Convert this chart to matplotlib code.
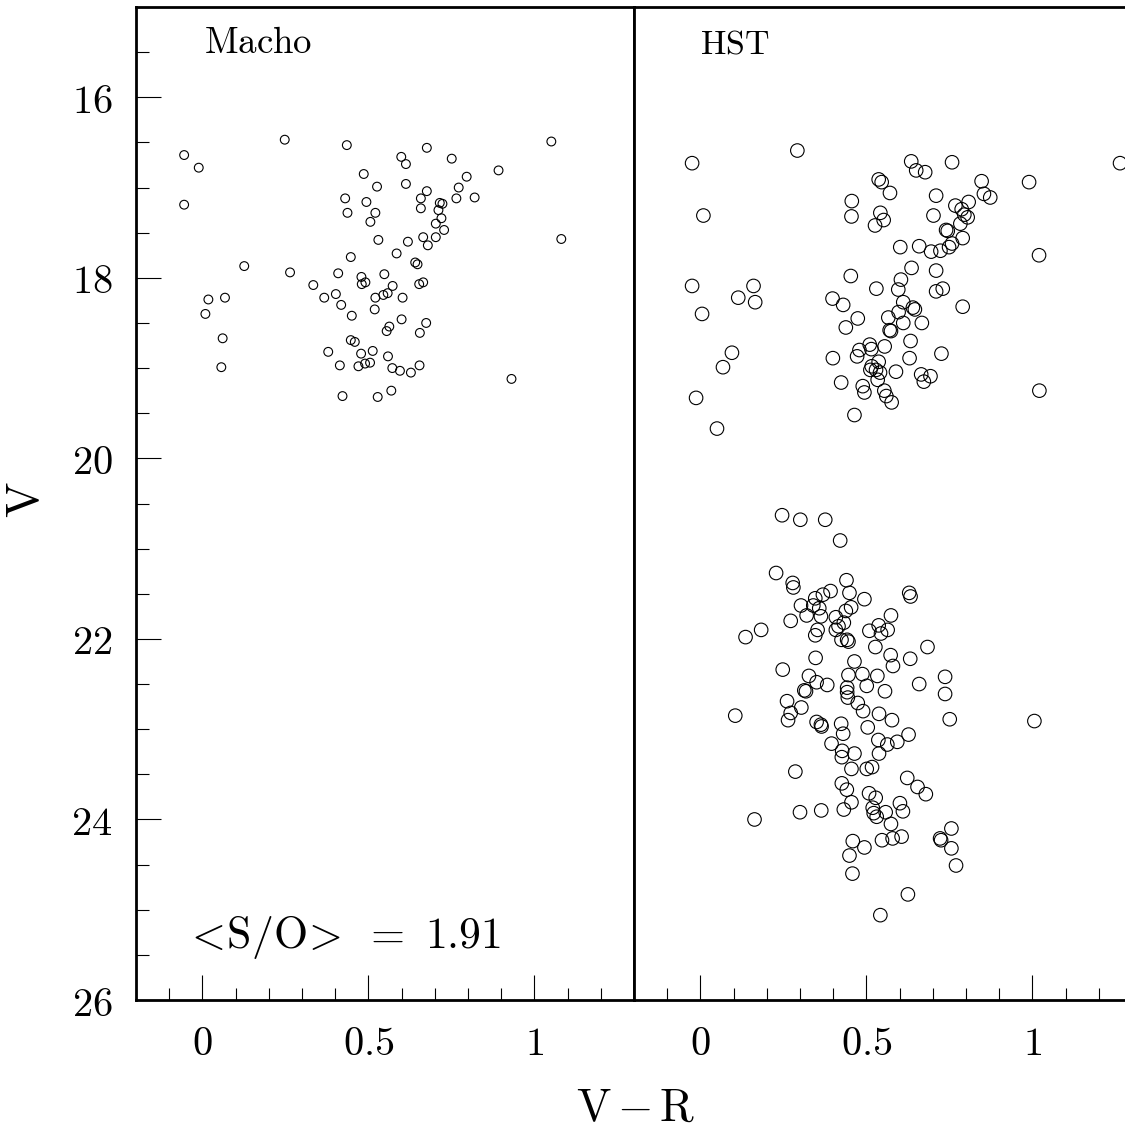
import numpy as np
import matplotlib
matplotlib.use('Agg')
import matplotlib.pyplot as plt
from matplotlib.ticker import MultipleLocator, FuncFormatter

plt.rcParams['mathtext.fontset'] = 'cm'

# Macho sample (V-R, V)
macho_vr = [0.248, 0.435, -0.055, -0.011, 1.051, 0.676, 0.599, 0.613, 0.751, 0.486,
            0.892, 0.796, 0.526, 0.613, 0.772, -0.055, 0.430, 0.494, 0.676, 0.658,
            0.765, 0.820, 0.437, 0.521, 0.658, 0.715, 0.723, 0.711, 0.720, 0.506,
            0.703, 0.728, 0.530, 0.619, 0.665, 0.703, 0.679, 1.081, 0.585, 0.447,
            0.641, 0.648, 0.126, 0.264, 0.409, 0.479, 0.548, 0.334, 0.480, 0.491,
            0.573, 0.653, 0.665, 0.018, 0.068, 0.009, 0.367, 0.402, 0.418, 0.521,
            0.545, 0.558, 0.603, 0.450, 0.519, 0.600, 0.674, 0.563, 0.555, 0.655,
            0.061, 0.447, 0.459, 0.379, 0.478, 0.513, 0.559, 0.414, 0.470, 0.490,
            0.505, 0.572, 0.595, 0.628, 0.654, 0.057, 0.931, 0.422, 0.528, 0.569]
macho_v = [16.47, 16.53, 16.64, 16.78, 16.49, 16.56, 16.66, 16.74, 16.68, 16.85,
           16.81, 16.88, 16.99, 16.96, 17.00, 17.19, 17.12, 17.16, 17.04, 17.12,
           17.12, 17.11, 17.28, 17.28, 17.23, 17.17, 17.18, 17.25, 17.34, 17.38,
           17.40, 17.47, 17.58, 17.60, 17.55, 17.55, 17.64, 17.57, 17.73, 17.77,
           17.83, 17.85, 17.87, 17.94, 17.95, 17.99, 17.96, 18.08, 18.07, 18.05,
           18.09, 18.07, 18.05, 18.24, 18.22, 18.40, 18.22, 18.18, 18.30, 18.22,
           18.19, 18.17, 18.22, 18.42, 18.35, 18.46, 18.50, 18.54, 18.59, 18.61,
           18.67, 18.69, 18.71, 18.82, 18.84, 18.81, 18.87, 18.97, 18.98, 18.95,
           18.94, 19.00, 19.03, 19.05, 18.97, 18.99, 19.12, 19.31, 19.32, 19.25]

# HST sample, bright part
hst_vr_bright = [-0.025, 0.292, 0.635, 0.650, 0.677, 0.758, 1.264, 0.537, 0.546, 0.571,
                 0.847, 0.990, 0.456, 0.710, 0.854, 0.873, 0.808, 0.768, 0.787, 0.009,
                 0.455, 0.542, 0.552, 0.526, 0.702, 0.795, 0.805, 0.783, 0.740, 0.745,
                 0.790, 1.020, 0.602, 0.659, 0.695, 0.723, 0.749, 0.758, 0.636, 0.710,
                 0.453, 0.530, 0.596, 0.604, 0.710, 0.730, 0.790, -0.025, 0.160, 0.114,
                 0.165, 0.005, 0.398, 0.430, 0.611, 0.640, 0.646, 0.474, 0.438, 0.566,
                 0.597, 0.611, 0.667, 0.570, 0.574, 0.633, 0.510, 0.479, 0.472, 0.515,
                 0.555, 0.399, 0.630, 0.726, 0.095, 0.068, 0.537, 0.516, 0.512, 0.529,
                 0.541, 0.534, 0.589, 0.424, 0.489, 0.494, 0.554, 0.560, 0.576, 0.665,
                 0.673, 0.693, 1.021, -0.013, 0.464, 0.050]
hst_v_bright = [16.73, 16.59, 16.71, 16.81, 16.83, 16.72, 16.73, 16.91, 16.94, 17.06,
                16.93, 16.94, 17.15, 17.09, 17.07, 17.11, 17.16, 17.20, 17.24, 17.31,
                17.32, 17.28, 17.36, 17.42, 17.31, 17.30, 17.33, 17.40, 17.47, 17.48,
                17.56, 17.75, 17.66, 17.65, 17.71, 17.70, 17.66, 17.62, 17.89, 17.92,
                17.98, 18.12, 18.13, 18.02, 18.15, 18.12, 18.32, 18.09, 18.09, 18.22,
                18.27, 18.40, 18.23, 18.30, 18.27, 18.33, 18.35, 18.45, 18.55, 18.44,
                18.38, 18.50, 18.50, 18.58, 18.59, 18.70, 18.74, 18.80, 18.87, 18.79,
                18.76, 18.89, 18.89, 18.84, 18.83, 18.99, 18.93, 18.98, 19.02, 19.02,
                19.05, 19.13, 19.04, 19.16, 19.20, 19.27, 19.25, 19.31, 19.38, 19.07,
                19.15, 19.09, 19.25, 19.33, 19.52, 19.67]

# HST sample, faint part
hst_vr_faint = [0.246, 0.301, 0.376, 0.421, 0.228, 0.278, 0.280, 0.440, 0.449, 0.392,
                0.369, 0.346, 0.494, 0.629, 0.633, 0.303, 0.340, 0.358, 0.320, 0.363,
                0.454, 0.438, 0.408, 0.432, 0.416, 0.408, 0.272, 0.574, 0.183, 0.136,
                0.353, 0.346, 0.509, 0.537, 0.564, 0.544, 0.425, 0.442, 0.446, 0.527,
                0.684, 0.347, 0.573, 0.580, 0.632, 0.464, 0.248, 0.327, 0.350, 0.382,
                0.446, 0.488, 0.533, 0.501, 0.442, 0.442, 0.444, 0.556, 0.659, 0.737,
                0.737, 0.313, 0.318, 0.261, 0.272, 0.264, 0.304, 0.474, 0.490, 0.538,
                0.577, 0.751, 1.006, 0.105, 0.350, 0.363, 0.365, 0.424, 0.430, 0.504,
                0.627, 0.593, 0.536, 0.563, 0.538, 0.395, 0.427, 0.426, 0.464, 0.455,
                0.501, 0.517, 0.286, 0.623, 0.654, 0.679, 0.426, 0.441, 0.508, 0.528,
                0.519, 0.522, 0.531, 0.558, 0.574, 0.601, 0.610, 0.455, 0.432, 0.364,
                0.300, 0.163, 0.459, 0.494, 0.449, 0.458, 0.547, 0.579, 0.606, 0.722,
                0.725, 0.756, 0.756, 0.770, 0.625, 0.542]
hst_v_faint = [20.63, 20.68, 20.68, 20.91, 21.27, 21.38, 21.43, 21.35, 21.49, 21.47,
               21.51, 21.55, 21.56, 21.49, 21.53, 21.63, 21.63, 21.66, 21.74, 21.75,
               21.65, 21.69, 21.76, 21.82, 21.86, 21.90, 21.80, 21.74, 21.90, 21.98,
               21.90, 21.96, 21.91, 21.85, 21.90, 21.94, 22.01, 22.01, 22.03, 22.09,
               22.09, 22.21, 22.18, 22.30, 22.22, 22.25, 22.34, 22.41, 22.48, 22.51,
               22.40, 22.39, 22.41, 22.52, 22.54, 22.59, 22.65, 22.58, 22.50, 22.42,
               22.61, 22.57, 22.58, 22.69, 22.82, 22.90, 22.76, 22.71, 22.80, 22.83,
               22.90, 22.89, 22.91, 22.85, 22.92, 22.95, 22.97, 22.94, 23.05, 22.98,
               23.06, 23.14, 23.12, 23.17, 23.27, 23.16, 23.24, 23.31, 23.27, 23.44,
               23.44, 23.42, 23.47, 23.54, 23.64, 23.72, 23.60, 23.67, 23.71, 23.76,
               23.87, 23.93, 23.97, 23.92, 24.05, 23.82, 23.91, 23.81, 23.89, 23.90,
               23.92, 24.00, 24.24, 24.31, 24.40, 24.60, 24.23, 24.21, 24.19, 24.21,
               24.23, 24.10, 24.32, 24.51, 24.83, 25.06]

hst_vr = hst_vr_bright + hst_vr_faint
hst_v = hst_v_bright + hst_v_faint

W, H = 1125, 1133
fig = plt.figure(figsize=(W / 100, H / 100), dpi=100)

# axes boxes in pixels (left, top, right, bottom)
left_box = [136, 7, 634, 1000]
right_box = [634, 7, 1132, 1000]

def make_axes(box):
    return fig.add_axes([box[0] / W, 1 - box[3] / H, (box[2] - box[0]) / W, (box[3] - box[1]) / H])

ax1 = make_axes(left_box)
ax2 = make_axes(right_box)

fmt = FuncFormatter(lambda v, p: r'$\mathrm{%g}$' % v)

for ax in [ax1, ax2]:
    ax.set_xlim(-0.2, 1.3)
    ax.set_ylim(26, 15)
    ax.xaxis.set_major_locator(MultipleLocator(0.5))
    ax.xaxis.set_minor_locator(MultipleLocator(0.1))
    ax.yaxis.set_major_locator(MultipleLocator(2))
    ax.yaxis.set_minor_locator(MultipleLocator(0.5))
    ax.xaxis.set_major_formatter(fmt)
    ax.yaxis.set_major_formatter(fmt)
    ax.tick_params(which='both', direction='in', width=0.8, color='black',
                   top=False, right=False, labelsize=29, pad=17)
    ax.tick_params(which='major', length=18)
    ax.tick_params(which='minor', length=9)
    for s in ax.spines.values():
        s.set_linewidth(2.0)

ax2.tick_params(which='both', left=False, labelleft=False)

ax1.scatter(macho_vr, macho_v, s=40, facecolors='none', edgecolors='black', linewidths=0.8)
ax2.scatter(hst_vr, hst_v, s=95, facecolors='none', edgecolors='black', linewidths=0.8)

ax1.text(0.006, 15.51, r'$\mathrm{Macho}$', fontsize=26.5, ha='left', va='baseline')
ax2.text(0.0, 15.51, r'$\mathrm{HST}$', fontsize=24.5, ha='left', va='baseline')
ax1.text(-0.055, 25.42, r'$\mathrm{<\!S/O\!>\ =\ 1.91}$', fontsize=31.5, ha='left', va='baseline')

fig.text(635 / W, 1 - 1108 / H, r'$\mathrm{V\,{-}\,R}$', fontsize=33, ha='center', va='center')
fig.text(27 / W, 1 - 500 / H, r'$\mathrm{V}$', fontsize=34, ha='center', va='center', rotation=90)

plt.savefig('out.png', dpi=100)
